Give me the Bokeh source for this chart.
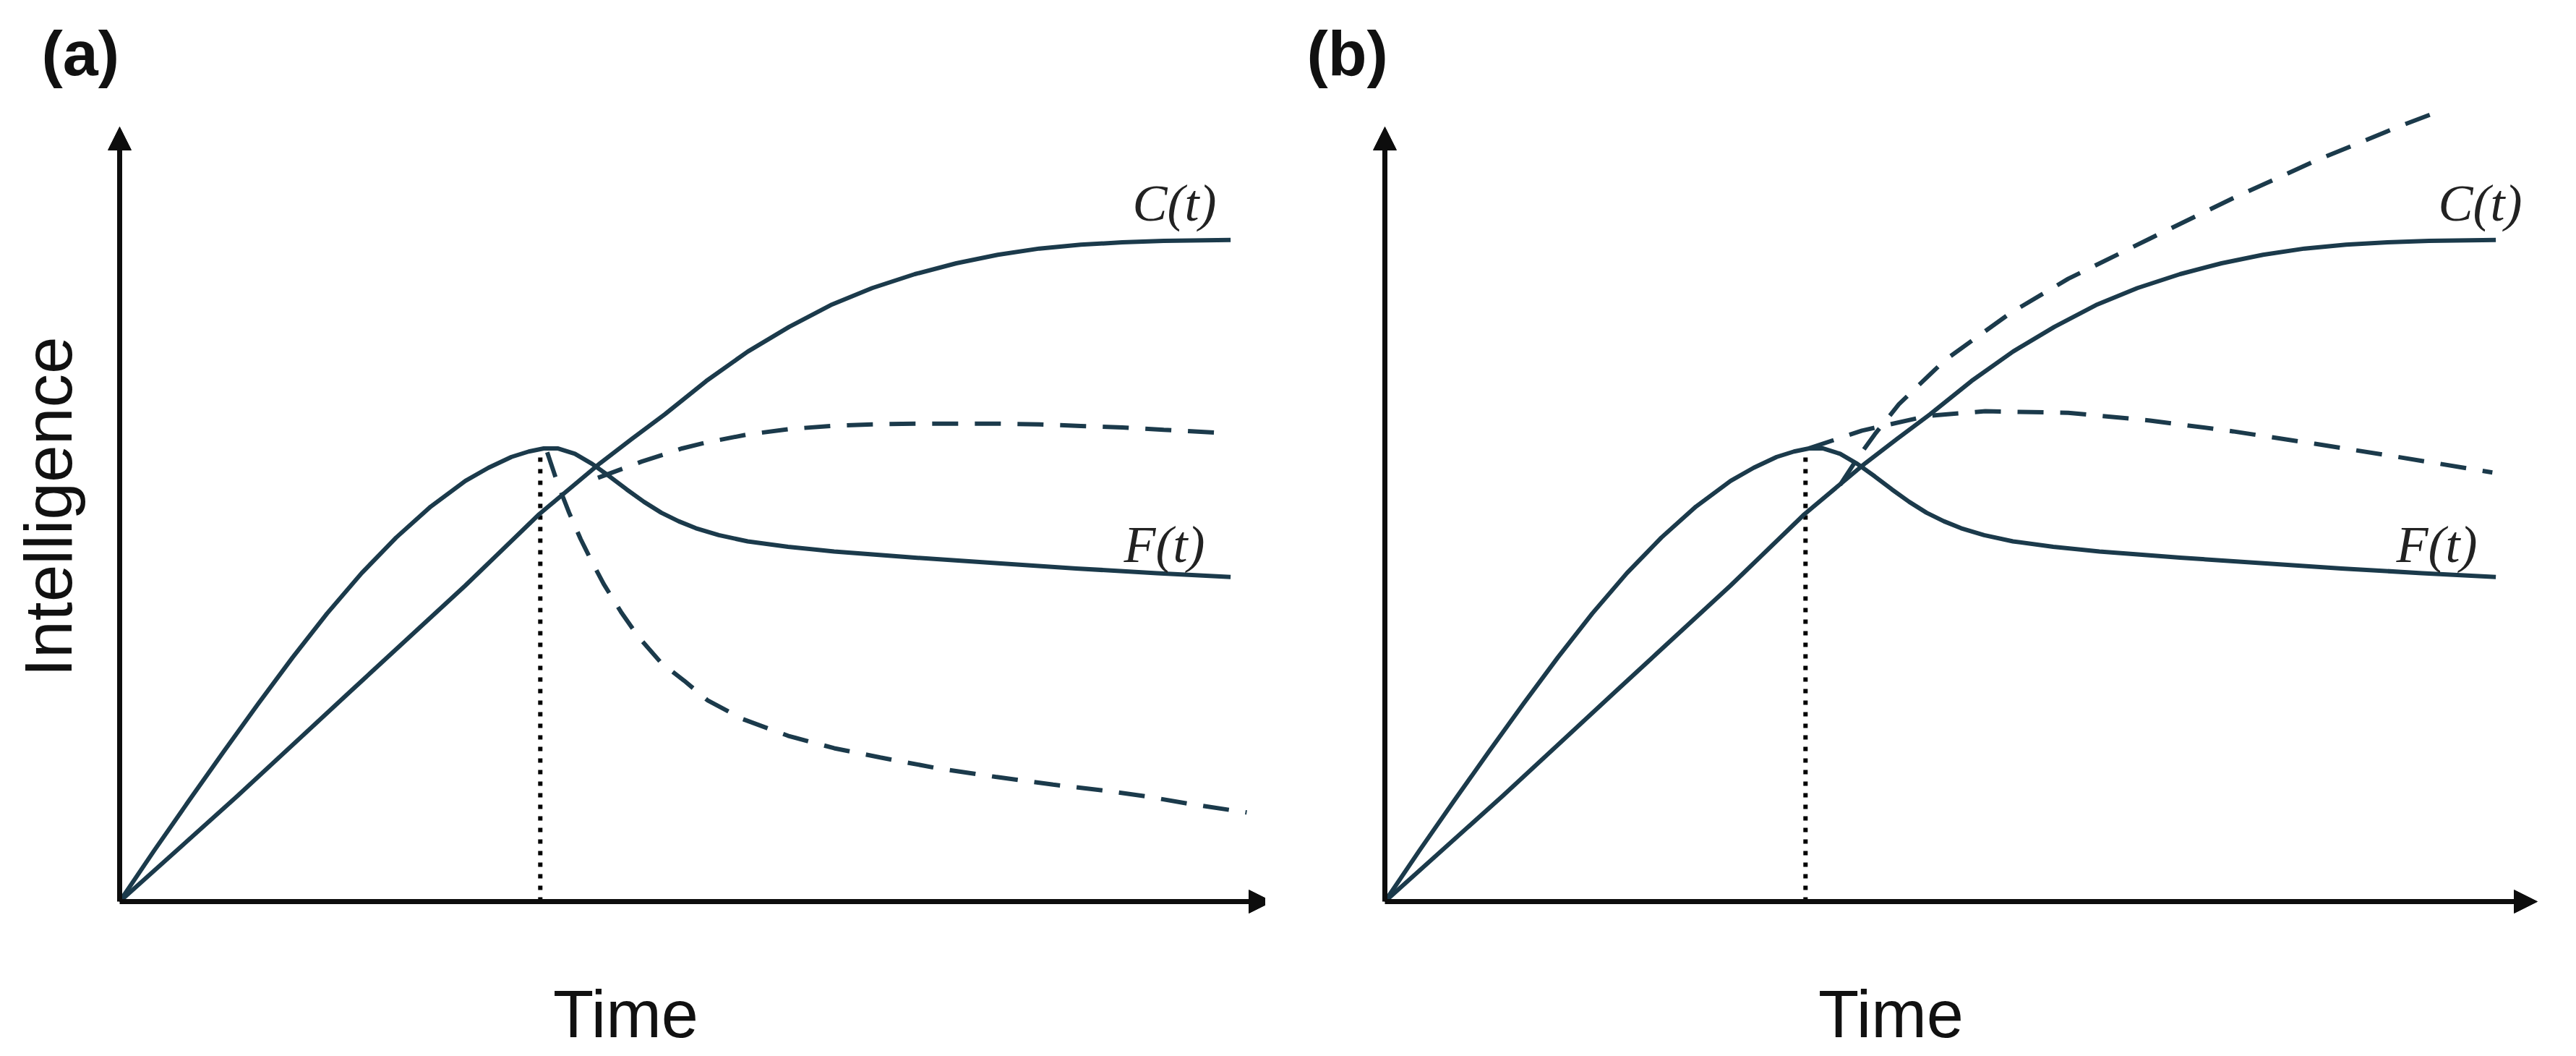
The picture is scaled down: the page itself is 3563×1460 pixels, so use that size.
import math
from bokeh.plotting import figure
from bokeh.models import Range1d, Arrow, NormalHead, Label
from bokeh.layouts import row
from bokeh.embed import file_html
from bokeh.resources import INLINE

# ---------------- data (Time, Intelligence) in arbitrary units, axes run 0..10 ----------------
AXIS_MAX = 10.0

# F(t): rises, peaks, declines to a plateau (both panels)
f_t = [0, 0.3, 0.6, 0.9, 1.2, 1.5, 1.8, 2.1, 2.4, 2.7, 3.0, 3.2, 3.4, 3.55, 3.68,
       3.8, 3.95, 4.1, 4.25, 4.4, 4.55, 4.7, 4.85, 5.0, 5.2, 5.45, 5.8, 6.2, 6.9, 7.6,
       8.3, 9.0, 9.64]
f_i = [0, 0.66, 1.30, 1.93, 2.55, 3.15, 3.72, 4.24, 4.70, 5.10, 5.43, 5.60, 5.74, 5.81, 5.85,
       5.85, 5.78, 5.65, 5.49, 5.32, 5.16, 5.02, 4.91, 4.82, 4.73, 4.65, 4.58, 4.52, 4.44, 4.37,
       4.30, 4.24, 4.19]

# C(t): near-linear growth saturating (both panels)
c_t = [0, 1.02, 2.0, 3.0, 3.64, 4.17, 4.45, 4.73, 5.09, 5.45, 5.81, 6.17, 6.53, 6.90, 7.26,
       7.62, 7.98, 8.34, 8.70, 9.06, 9.64]
c_i = [0, 1.36, 2.71, 4.08, 5.00, 5.66, 5.98, 6.29, 6.72, 7.10, 7.42, 7.70, 7.92, 8.10, 8.24,
       8.35, 8.43, 8.48, 8.51, 8.53, 8.54]

# time of the F peak (dotted marker)
peak_t = [3.65, 3.65]
peak_i = [0, 5.82]

# panel (a) dashed scenarios
a_up_t = [4.15, 4.35, 4.53, 4.72, 4.88, 5.1, 5.45, 5.81, 6.17, 6.53, 6.9, 7.26, 7.62, 7.98,
          8.34, 8.70, 9.06, 9.57]
a_up_i = [5.47, 5.58, 5.68, 5.77, 5.85, 5.93, 6.03, 6.10, 6.14, 6.16, 6.17, 6.17, 6.17, 6.16,
          6.14, 6.12, 6.09, 6.05]
a_low_t = [3.71, 3.80, 3.90, 4.00, 4.10, 4.20, 4.35, 4.50, 4.70, 4.90, 5.10, 5.40, 5.80, 6.20,
           6.60, 7.10, 7.60, 8.10, 8.56, 8.90, 9.29, 9.78]
a_low_i = [5.80, 5.40, 5.02, 4.68, 4.38, 4.10, 3.74, 3.42, 3.08, 2.85, 2.60, 2.36, 2.14, 1.98,
           1.86, 1.72, 1.61, 1.51, 1.43, 1.36, 1.26, 1.15]

# panel (b) dashed scenarios
b_up_t = [3.95, 4.10, 4.25, 4.46, 4.86, 5.43, 5.93, 6.64, 7.36, 8.07, 8.79, 9.18]
b_up_i = [5.38, 5.72, 6.03, 6.42, 6.99, 7.60, 8.04, 8.56, 9.08, 9.56, 10.0, 10.22]
b_mid_t = [3.68, 4.14, 4.71, 5.21, 5.93, 6.64, 7.36, 8.07, 8.79, 9.61]
b_mid_i = [5.85, 6.08, 6.27, 6.33, 6.31, 6.21, 6.07, 5.91, 5.74, 5.54]

# ---------------- styling ----------------
CURVE = "#1b3a4b"
AXIS = "#0d0d0d"
H = 1460
PX_T = 159.4   # px per time unit
PX_I = 107.1   # px per intelligence unit
X0 = 165       # px of origin from left
Y0 = 1246      # px of origin from top


def panel(width, tag, dashed, ylabel, c_lab_x, f_lab_x):
    t0 = -X0 / PX_T
    i0 = -(H - Y0) / PX_I
    p = figure(width=width, height=H, output_backend="svg", toolbar_location=None,
               x_range=Range1d(t0, t0 + width / PX_T), y_range=Range1d(i0, i0 + H / PX_I),
               min_border=0)
    p.axis.visible = False
    p.grid.visible = False
    p.outline_line_color = None
    p.background_fill_color = "white"

    for (x0, y0, x1, y1) in [(0, 0, AXIS_MAX, 0), (0, 0, 0, AXIS_MAX)]:
        p.add_layout(Arrow(end=NormalHead(size=32, fill_color=AXIS, line_color=AXIS, line_width=1),
                           x_start=x0, y_start=y0, x_end=x1, y_end=y1,
                           line_width=7, line_color=AXIS))

    p.line(peak_t, peak_i, line_color="#000000", line_width=6, line_dash="6 10")
    p.line(c_t, c_i, line_color=CURVE, line_width=6, line_join="round")
    p.line(f_t, f_i, line_color=CURVE, line_width=6, line_join="round")
    for xs, ys in dashed:
        p.line(xs, ys, line_color=CURVE, line_width=6, line_dash="36 23")

    p.add_layout(Label(x=57, y=H - 73, x_units="screen", y_units="screen", text=tag,
                       text_font="Liberation Sans", text_font_size="88px",
                       text_font_style="bold", text_baseline="middle", text_color="#111"))
    p.add_layout(Label(x=865, y=H - 1401, x_units="screen", y_units="screen", text="Time",
                       text_font="Liberation Sans", text_font_size="92px",
                       text_align="center", text_baseline="middle", text_color="#111"))
    p.add_layout(Label(x=c_lab_x, y=H - 280, x_units="screen", y_units="screen", text="C(t)",
                       text_font="Liberation Serif", text_font_size="72px", text_font_style="italic",
                       text_align="center", text_baseline="middle", text_color="#222"))
    p.add_layout(Label(x=f_lab_x, y=H - 752, x_units="screen", y_units="screen", text="F(t)",
                       text_font="Liberation Serif", text_font_size="72px", text_font_style="italic",
                       text_align="center", text_baseline="middle", text_color="#222"))
    if ylabel:
        p.add_layout(Label(x=66, y=H - 700, x_units="screen", y_units="screen", text=ylabel,
                           angle=math.pi / 2, text_font="Liberation Sans", text_font_size="93px",
                           text_align="center", text_baseline="middle", text_color="#111"))
    return p


pa = panel(1750, "(a)", [(a_up_t, a_up_i), (a_low_t, a_low_i)], "Intelligence", 1624, 1610)
pb = panel(1813, "(b)", [(b_up_t, b_up_i), (b_mid_t, b_mid_i)], None, 1680, 1620)

layout = row(pa, pb)
open("out.html", "w").write(file_html(layout, INLINE))
